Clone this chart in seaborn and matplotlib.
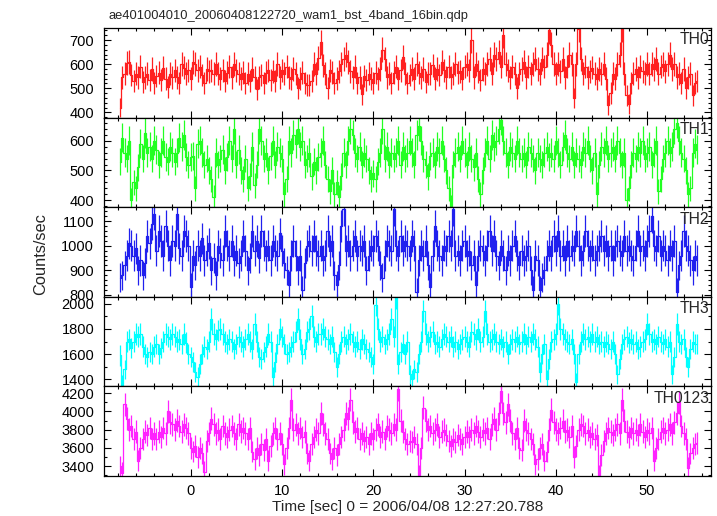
import numpy as np
import matplotlib
matplotlib.use('Agg')
import matplotlib.pyplot as plt
from matplotlib.ticker import MultipleLocator
import seaborn as sns

# bin setup: 0.25 s bins, first bin centre at -7.75 s
t_start = -7.75
dt = 0.25

th0 = [
    420, 545, 560, 605, 610, 555, 530, 560,
    545, 590, 525, 545, 560, 535, 580, 520,
    550, 565, 535, 585, 540, 505, 560, 545,
    575, 545, 520, 600, 585, 560, 575, 540,
    610, 600, 575, 590, 555, 520, 580, 570,
    575, 560, 600, 560, 540, 575, 530, 565,
    590, 545, 600, 575, 560, 540, 565, 520,
    560, 530, 580, 545, 495, 545, 555, 520,
    565, 575, 535, 570, 530, 600, 545, 575,
    560, 590, 545, 540, 580, 560, 500, 540,
    565, 520, 515, 515, 530, 600, 560, 625,
    690, 595, 560, 500, 575, 565, 520, 540,
    570, 600, 620, 640, 610, 570, 545, 590,
    520, 545, 475, 550, 535, 560, 540, 520,
    565, 540, 580, 660, 620, 545, 560, 520,
    565, 590, 540, 575, 630, 560, 520, 555,
    580, 540, 600, 565, 545, 580, 525, 560,
    560, 595, 540, 580, 555, 610, 575, 545,
    590, 545, 560, 600, 565, 570, 540, 590,
    600, 575, 700, 545, 600, 570, 535, 580,
    560, 600, 620, 560, 640, 620, 650, 590,
    720, 600, 575, 545, 590, 560, 500, 560,
    580, 610, 545, 590, 560, 600, 620, 580,
    560, 620, 590, 640, 740, 680, 600, 560,
    600, 570, 620, 545, 590, 640, 600, 460,
    600, 745, 620, 560, 590, 545, 570, 585,
    560, 540, 580, 560, 600, 540, 430, 480,
    560, 540, 600, 640, 745, 560, 470, 435,
    520, 560, 580, 545, 590, 570, 560, 600,
    560, 600, 580, 620, 560, 590, 600, 570,
    600, 640, 580, 600, 545, 560, 520, 580,
    500, 545, 560, 470, 520, 530,
]

th1 = [
    530, 610, 560, 540, 600, 400, 460, 440,
    510, 590, 540, 625, 560, 580, 540, 600,
    570, 520, 560, 600, 545, 530, 580, 560,
    530, 560, 610, 580, 620, 545, 520, 545,
    550, 440, 590, 600, 560, 520, 540, 500,
    470, 410, 560, 520, 540, 570, 500, 545,
    600, 540, 640, 520, 570, 500, 470, 540,
    440, 480, 580, 450, 520, 640, 600, 540,
    560, 500, 550, 600, 520, 580, 560, 540,
    420, 470, 600, 560, 620, 590, 640, 580,
    600, 520, 540, 560, 480, 530, 500, 545,
    560, 600, 520, 470, 430, 500, 420, 460,
    410, 480, 560, 520, 600, 640, 620, 560,
    540, 580, 520, 560, 540, 500, 470, 490,
    470, 530, 560, 640, 540, 580, 520, 560,
    540, 560, 600, 520, 580, 540, 560, 600,
    560, 520, 620, 650, 600, 540, 520, 480,
    550, 560, 520, 580, 560, 600, 540, 500,
    440, 380, 520, 560, 580, 540, 600, 560,
    520, 580, 540, 510, 560, 470, 420, 500,
    560, 600, 540, 620, 580, 600, 640, 670,
    600, 560, 520, 580, 560, 540, 600, 560,
    540, 560, 520, 580, 560, 540, 500, 560,
    540, 520, 560, 580, 545, 560, 540, 600,
    560, 520, 580, 620, 560, 540, 580, 520,
    560, 540, 520, 580, 560, 600, 540, 500,
    560, 420, 520, 580, 560, 600, 540, 560,
    580, 540, 600, 560, 520, 560, 400, 440,
    520, 560, 540, 580, 560, 600, 540, 560,
    580, 520, 560, 600, 430, 470, 540, 560,
    600, 560, 580, 640, 660, 600, 560, 540,
    500, 420, 440, 560, 590, 570,
]

th2 = [
    870, 880, 920, 960, 1010, 1000, 960, 990,
    900, 940, 880, 930, 1040, 1010, 1090, 1130,
    980, 1060, 1020, 960, 1080, 1000, 940, 1020,
    1000, 1130, 990, 960, 1060, 1040, 1000, 830,
    960, 920, 1000, 960, 1030, 940, 980, 1010,
    900, 950, 880, 1000, 970, 940, 1060, 1000,
    960, 1020, 940, 980, 930, 960, 1040, 980,
    900, 950, 1060, 980, 1020, 950, 1060, 1000,
    960, 1000, 940, 1020, 980, 960, 1050, 980,
    930, 900, 840, 960, 1020, 960, 900, 960,
    820, 930, 1000, 1020, 980, 1040, 980, 960,
    1000, 940, 960, 1060, 980, 1020, 880, 840,
    920, 1080, 1150, 980, 1020, 960, 1000, 1040,
    960, 1000, 980, 1020, 900, 960, 1000, 980,
    1040, 1000, 920, 870, 960, 1020, 1000, 980,
    1150, 1000, 960, 1040, 980, 1020, 1000, 960,
    1040, 1000, 810, 940, 1000, 960, 1020, 920,
    830, 960, 1080, 1000, 960, 940, 1000, 980,
    1040, 1000, 1150, 960, 980, 940, 1000, 1020,
    960, 980, 920, 960, 840, 960, 1000, 980,
    940, 1000, 1060, 980, 1040, 960, 920, 1000,
    960, 900, 980, 940, 1000, 1040, 960, 920,
    980, 940, 960, 1000, 900, 820, 960, 940,
    820, 870, 900, 960, 1000, 960, 1040, 980,
    1060, 960, 1000, 940, 1020, 960, 1000, 980,
    1060, 1000, 940, 980, 1060, 1000, 960, 1000,
    940, 980, 1000, 1040, 980, 1020, 960, 1000,
    940, 1000, 1020, 980, 960, 1040, 980, 1000,
    960, 940, 1000, 1060, 980, 1000, 960, 1020,
    1060, 1120, 1000, 980, 1040, 960, 1000, 980,
    940, 1000, 960, 1020, 810, 920, 960, 1060,
    1000, 980, 940, 900, 960, 940,
]

th3 = [
    1590, 1360, 1480, 1700, 1720, 1650, 1700, 1760,
    1740, 1760, 1660, 1600, 1580, 1620, 1600, 1660,
    1680, 1600, 1650, 1700, 1760, 1740, 1720, 1760,
    1740, 1700, 1720, 1680, 1760, 1690, 1600, 1580,
    1540, 1460, 1420, 1520, 1600, 1660, 1640, 1700,
    1880, 1760, 1720, 1790, 1800, 1760, 1700, 1680,
    1720, 1700, 1640, 1680, 1740, 1700, 1660, 1720,
    1760, 1700, 1640, 1840, 1700, 1580, 1560, 1620,
    1660, 1760, 1700, 1420, 1540, 1680, 1800, 1740,
    1680, 1600, 1620, 1660, 1700, 1780, 1880, 1720,
    1600, 1640, 1780, 1800, 1900, 1740, 1700, 1760,
    1760, 1800, 1740, 1720, 1680, 1740, 1620, 1500,
    1600, 1700, 1740, 1680, 1720, 1760, 1700, 1660,
    1700, 1640, 1720, 1680, 1640, 1620, 1580, 1520,
    1990, 1800, 1700, 1740, 1680, 1720, 1760, 1880,
    1740, 2050, 1520, 1620, 1680, 1600, 1700, 1440,
    1400, 1480, 1460, 1600, 1700, 1940, 1760, 1700,
    1740, 1780, 1680, 1700, 1660, 1720, 1760, 1740,
    1700, 1740, 1660, 1700, 1640, 1680, 1720, 1740,
    1700, 1660, 1780, 1760, 1720, 1800, 1700, 1740,
    1940, 1760, 1700, 1720, 1760, 1700, 1680, 1720,
    1660, 1700, 1600, 1680, 1720, 1700, 1740, 1680,
    1700, 1760, 1680, 1740, 1700, 1760, 1720, 1660,
    1460, 1600, 1680, 1400, 1560, 1700, 1720, 1760,
    2000, 1800, 1760, 1720, 1700, 1680, 1720, 1600,
    1380, 1600, 1700, 1760, 1720, 1740, 1700, 1760,
    1700, 1740, 1680, 1700, 1660, 1700, 1680, 1640,
    1700, 1600, 1440, 1560, 1680, 1720, 1740, 1690,
    1720, 1680, 1700, 1640, 1660, 1700, 1720, 1840,
    1760, 1700, 1720, 1680, 1740, 1700, 1680, 1720,
    1660, 1700, 1440, 1580, 1840, 1700, 1680, 1720,
    1580, 1500, 1640, 1700, 1680, 1680,
]

th0123 = [
    3400, 3330, 4080, 3920, 3800, 3840, 3700, 3780,
    3460, 3600, 3700, 3780, 3740, 3820, 3700, 3760,
    3700, 3780, 3720, 3820, 3760, 4000, 3880, 3860,
    3800, 3900, 3840, 3780, 3860, 3820, 3760, 3600,
    3560, 3620, 3500, 3600, 3540, 3340, 3680, 3760,
    3920, 3860, 3760, 3800, 3700, 3840, 3760, 3720,
    3800, 3840, 3760, 3700, 3860, 3780, 3820, 3760,
    3700, 3820, 3560, 3480, 3600, 3520, 3640, 3580,
    3700, 3460, 3620, 3760, 3820, 3700, 3760, 3640,
    3420, 3600, 3820, 4130, 3800, 3860, 3760, 3820,
    3720, 3780, 3540, 3460, 3640, 3720, 3800, 3760,
    3980, 3860, 3760, 3700, 3540, 3480, 3600, 3520,
    3640, 3720, 3800, 3980, 3920, 4130, 3880, 3780,
    3820, 3700, 3760, 3680, 3720, 3640, 3760, 3700,
    3800, 3860, 3720, 3780, 3700, 3840, 3800, 3760,
    3860, 3800, 4250, 3900, 3780, 3700, 3640, 3680,
    3660, 3720, 3640, 3300, 3600, 4040, 3900, 3800,
    3840, 3760, 3800, 3860, 3720, 3780, 3800, 3740,
    3680, 3620, 3700, 3660, 3740, 3700, 3640, 3720,
    3780, 3720, 3800, 3760, 3840, 3780, 3720, 3800,
    3760, 3820, 3700, 3860, 3920, 3800, 3980, 4220,
    3980, 3880, 4080, 3900, 3760, 3700, 3820, 3600,
    3580, 3900, 3800, 3760, 3700, 3640, 3420, 3480,
    3600, 3640, 3460, 3560, 3800, 4020, 3880, 3800,
    3760, 3820, 3900, 3780, 3800, 3720, 3840, 3500,
    3620, 3800, 3860, 3840, 3760, 3800, 3720, 3760,
    3700, 3740, 3300, 3520, 3680, 3760, 3820, 3780,
    3740, 3800, 3860, 3760, 4130, 3900, 3780, 3720,
    3820, 3760, 3800, 3740, 3860, 3780, 3720, 3800,
    3760, 3820, 3460, 3600, 3700, 3780, 3820, 3760,
    3800, 3860, 3760, 3880, 3980, 4100, 3840, 3760,
    3700, 3380, 3540, 3600, 3640, 3650,
]

bands = ['TH0', 'TH1', 'TH2', 'TH3', 'TH0123']
rates = [th0, th1, th2, th3, th0123]
colors = ['#ff2020', '#22ff22', '#2020ee', '#00ffff', '#ff22ff']
ylims = [(378, 750), (377, 677), (792, 1157), (1345, 2055), (3292, 4275)]
ymajor = [100, 100, 100, 200, 200]
yminor = [20, 20, 20, 100, 100]

sns.set_style('ticks')
plt.rcParams['font.family'] = ['Liberation Sans', 'DejaVu Sans']

fig, axes = plt.subplots(5, 1, sharex=True, figsize=(7.17, 5.16), dpi=100)
fig.subplots_adjust(left=0.145, right=0.9916, top=0.9457, bottom=0.0775, hspace=0)

for ax, name, rate, col, yl, maj, mnr in zip(axes, bands, rates, colors, ylims, ymajor, yminor):
    rate = np.array(rate, dtype=float)
    t = t_start + dt * np.arange(len(rate))
    err = np.sqrt(rate * dt) / dt  # poisson error from counts per bin
    sns.lineplot(x=t, y=rate, drawstyle='steps-mid', color=col, lw=0.9, ax=ax)
    ax.vlines(t, rate - err, rate + err, color=col, lw=0.9)
    ax.set_ylim(*yl)
    ax.yaxis.set_major_locator(MultipleLocator(maj))
    ax.yaxis.set_minor_locator(MultipleLocator(mnr))
    ax.xaxis.set_major_locator(MultipleLocator(10))
    ax.xaxis.set_minor_locator(MultipleLocator(2))
    ax.tick_params(which='both', direction='in', top=True, right=True,
                   labelsize=10.5, colors='black')
    ax.tick_params(axis='y', which='major', pad=7)
    ax.tick_params(axis='x', which='major', pad=6)
    ax.tick_params(which='major', length=5, width=0.8)
    ax.tick_params(which='minor', length=2.5, width=0.8)
    for s in ax.spines.values():
        s.set_linewidth(0.9)
        s.set_color('black')
    ax.set_ylabel('')
    ax.text(0.997, 0.95, name, transform=ax.transAxes, ha='right', va='top',
            fontsize=11.3)

axes[-1].set_xlim(-9.5, 57.0)
axes[-1].set_xlabel('Time [sec] 0 = 2006/04/08 12:27:20.788', fontsize=11.1, labelpad=1)
fig.text(0.057, 0.508, 'Counts/sec', rotation=90, ha='center', va='center', fontsize=11.8)
fig.text(0.151, 0.958, 'ae401004010_20060408122720_wam1_bst_4band_16bin.qdp',
         ha='left', va='bottom', fontsize=9.3)

fig.savefig('out.png', dpi=100)
